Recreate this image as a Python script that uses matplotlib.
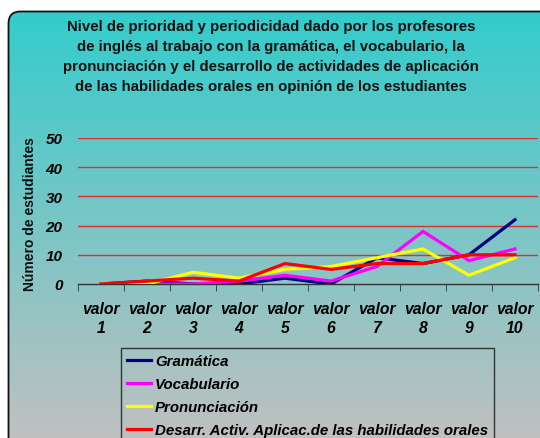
import numpy as np
import matplotlib
matplotlib.use("Agg")
import matplotlib.pyplot as plt
from matplotlib.patches import FancyBboxPatch

plt.rcParams["font.family"] = ["Liberation Sans", "DejaVu Sans"]

categories = [f"valor\n{i}" for i in range(1, 11)]
gramatica = [0, 1, 0, 0, 2, 0, 9, 7, 10, 22]
vocabulario = [0, 0, 0, 1, 3, 1, 6, 18, 8, 12]
pronunciacion = [0, 0, 4, 2, 5, 6, 9, 12, 3, 9]
desarrollo = [0, 1, 2, 1, 7, 5, 7, 7, 10, 10]
series_names = ["Gramática", "Vocabulario", "Pronunciación",
                "Desarr. Activ. Aplicac.de las habilidades orales"]
colors = ["#000080", "#FF00FF", "#FFFF00", "#FF0000"]
yticks = [0, 10, 20, 30, 40, 50]

title = ("Nivel de prioridad y periodicidad dado por los profesores\n"
         "de inglés al trabajo con la gramática, el vocabulario, la\n"
         "pronunciación y el desarrollo de actividades de aplicación\n"
         "de las habilidades orales en opinión de los estudiantes")

W, H = 540, 439
fig = plt.figure(figsize=(W / 100, H / 100), dpi=100)
fig.patch.set_facecolor("white")

# background panel: rounded box with teal -> silver gradient
bg = fig.add_axes([0, 0, 1, 1])
bg.set_xlim(0, W); bg.set_ylim(H, 0); bg.axis("off")
top = np.array([51, 204, 204]) / 255
bot = np.array([192, 192, 192]) / 255
t = np.linspace(0, 1, 256)[:, None]
grad = (top[None, :] * (1 - t) + bot[None, :] * t)[:, None, :]
box = FancyBboxPatch((8.5, 12.5), 560, 460, boxstyle="round,pad=0,rounding_size=12",
                     facecolor="none", edgecolor="#111111", lw=1.3, zorder=3)
bg.add_patch(box)
im = bg.imshow(grad, extent=[8, W + 30, H, 12], aspect="auto", zorder=1)
im.set_clip_path(box)

fig.text(0.502, 1 - 20.5 / H, title, ha="center", va="top", fontsize=10.8,
         fontweight="bold", linespacing=1.53, color="#111111")

ax = fig.add_axes([78 / W, 1 - 285 / H, 460 / W, (285 - 139) / H])
ax.patch.set_alpha(0)
x = np.arange(len(categories))
for vals, c, name in zip([gramatica, vocabulario, pronunciacion, desarrollo], colors, series_names):
    ax.plot(x, vals, color=c, lw=2.3, label=name, zorder=3, solid_joinstyle="miter")

ax.set_xlim(-0.5, len(categories) - 0.5)
ax.set_ylim(0, 50)
ax.set_yticks(yticks)
ax.set_yticklabels([str(v) for v in yticks], fontsize=11, fontweight="bold", style="italic")
ax.set_xticks(x)
ax.set_xticklabels(categories, fontsize=11.3, fontweight="bold", style="italic", linespacing=1.4)
ax.set_xticks(np.arange(-0.5, len(categories) - 0.4, 1), minor=True)
ax.tick_params(axis="x", which="major", length=0, pad=12)
ax.tick_params(axis="x", which="minor", length=5, color="#333333", direction="out")
ax.tick_params(axis="y", length=0, pad=11)
for v in yticks[1:]:
    ax.axhline(v, color="#D83030", lw=1.0, zorder=1)
for s in ["top", "right", "left"]:
    ax.spines[s].set_visible(False)
ax.spines["bottom"].set_color("#333333")
ax.spines["bottom"].set_linewidth(1.0)
fig.text(30 / W, 1 - 214 / H, "Número de estudiantes", rotation=90, ha="center",
         va="center", fontsize=10, fontweight="bold", color="#111111")

leg = fig.legend(loc="upper left", bbox_to_anchor=(121 / W, 1 - 349 / H),
                 prop={"size": 10.8, "weight": "bold", "style": "italic"},
                 handlelength=1.6, handletextpad=0.25, labelspacing=0.6,
                 borderpad=0.42, borderaxespad=0, fancybox=False, frameon=True)
leg.get_frame().set_edgecolor("#111111")
leg.get_frame().set_facecolor("none")
leg.get_frame().set_linewidth(1.0)
for line in leg.get_lines():
    line.set_linewidth(2.3)

fig.savefig("out.png", dpi=100)
